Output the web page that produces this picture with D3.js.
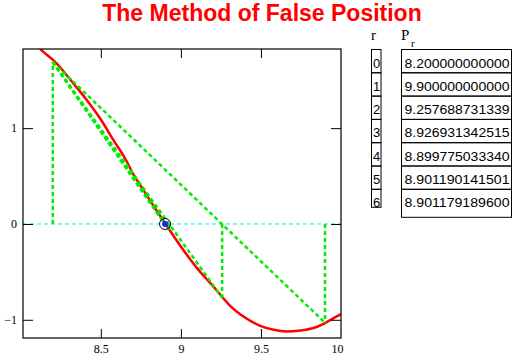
<!DOCTYPE html>
<html lang="en">
<head>
    <meta charset="utf-8">
    <title>The Method of False Position</title>
    <script src="https://d3js.org/d3.v7.min.js"></script>
    <style>
        body { margin: 0; background: #fff; }
        .tick text { font-family: "Liberation Serif", "DejaVu Serif", serif; font-size: 12px; fill: #000; }
        .tick line { stroke: #000; }
    </style>
</head>
<body>

<script>
    // curve (x, f(x))
    const curveX = [8.12, 8.131, 8.225, 8.329, 8.413, 8.496, 8.579, 8.663, 8.694, 8.766, 8.839, 8.902,
        8.964, 9.038, 9.11, 9.194, 9.256, 9.308, 9.391, 9.496, 9.579, 9.663, 9.746, 9.829, 9.891, 9.954, 10.0];
    const curveY = [1.83, 1.812, 1.674, 1.466, 1.292, 1.101, 0.875, 0.649, 0.545, 0.354, 0.164, 0.007,
        -0.149, -0.323, -0.479, -0.635, -0.757, -0.854, -0.966, -1.063, -1.104, -1.122, -1.111, -1.086, -1.042, -0.982, -0.94];

    // iterates from the table and f(p_r)
    const rIndex = [0, 1, 2, 3, 4, 5, 6];
    const pLabels = ["8.200000000000", "9.900000000000", "9.257688731339", "8.926931342515",
        "8.899775033340", "8.901190141501", "8.901179189600"];
    const pValues = pLabels.map(Number);
    const fAtP = [1.69, -1.03, -0.77, -0.066, 0.003, 0.0, 0.0];
    const root = 8.901179189600;

    const xTicks = [8.5, 9, 9.5, 10];
    const yTicks = [-1, 0, 1];

    const W = 520, H = 364;
    const L = 23, R = 341, T = 49, B = 338;

    const x = d3.scaleLinear().domain([8.014, 10]).range([L, R]);
    const y = d3.scaleLinear().domain([-1.19, 1.826]).range([B, T]);

    const svg = d3.select("body").append("svg").attr("width", W).attr("height", H);

    svg.append("text")
        .attr("x", 262).attr("y", 21)
        .attr("text-anchor", "middle")
        .style("font-family", "'Liberation Sans', Arial, sans-serif")
        .style("font-weight", "bold")
        .style("font-size", "23px")
        .style("fill", "#ff0000")
        .text("The Method of False Position");

    svg.append("clipPath").attr("id", "plot")
        .append("rect").attr("x", L).attr("y", T).attr("width", R - L).attr("height", B - T);

    const g = svg.append("g").attr("clip-path", "url(#plot)");

    // zero line
    g.append("line")
        .attr("x1", L).attr("x2", R).attr("y1", y(0)).attr("y2", y(0))
        .attr("stroke", "#00e8f0").attr("stroke-width", 1).attr("stroke-dasharray", "4,3");

    // function curve
    const pts = curveX.map((d, i) => [d, curveY[i]]);
    g.append("path")
        .datum(pts)
        .attr("fill", "none")
        .attr("stroke", "#ff0000")
        .attr("stroke-width", 2.5)
        .attr("d", d3.line().x(d => x(d[0])).y(d => y(d[1])).curve(d3.curveMonotoneX));

    // secant lines from (p0, f(p0)) to each later iterate, and verticals
    const green = "#00ee00";
    const secants = d3.range(1, pValues.length);
    g.selectAll("line.secant")
        .data(secants).enter()
        .append("line").attr("class", "secant")
        .attr("x1", x(pValues[0])).attr("y1", y(fAtP[0]))
        .attr("x2", i => x(pValues[i])).attr("y2", i => y(fAtP[i]))
        .attr("stroke", green).attr("stroke-width", 2.5).attr("stroke-dasharray", "4,3");

    g.selectAll("line.vert")
        .data(d3.range(0, 4)).enter()
        .append("line").attr("class", "vert")
        .attr("x1", i => x(pValues[i])).attr("x2", i => x(pValues[i]))
        .attr("y1", y(0)).attr("y2", i => y(fAtP[i]))
        .attr("stroke", green).attr("stroke-width", 2.5).attr("stroke-dasharray", "4,3");

    // root marker
    g.append("circle").attr("cx", x(root)).attr("cy", y(0)).attr("r", 5.5)
        .attr("fill", "none").attr("stroke", "#000").attr("stroke-width", 1);
    g.append("circle").attr("cx", x(root)).attr("cy", y(0)).attr("r", 3)
        .attr("fill", "#2020ff");

    const fmt = d => d < 0 ? "\u2212" + Math.abs(d) : String(d);

    // axes (ticks point inward on all four sides)
    const axBottom = svg.append("g").attr("transform", `translate(0,${B})`)
        .call(d3.axisBottom(x).tickValues(xTicks).tickSize(-9).tickSizeOuter(0).tickPadding(6)
            .tickFormat(fmt));
    axBottom.select(".domain").remove();
    axBottom.selectAll(".tick").filter(d => d === 10).select("text").attr("dx", -4);
    axBottom.selectAll(".tick").filter(d => d === 10).select("line").remove();

    const axTop = svg.append("g").attr("transform", `translate(0,${T})`)
        .call(d3.axisTop(x).tickValues(xTicks.slice(0, 3)).tickSize(-9).tickSizeOuter(0).tickFormat(""));
    axTop.select(".domain").remove();

    const axLeft = svg.append("g").attr("transform", `translate(${L},0)`)
        .call(d3.axisLeft(y).tickValues(yTicks).tickSize(-10).tickSizeOuter(0).tickPadding(6)
            .tickFormat(fmt));
    axLeft.select(".domain").remove();

    const axRight = svg.append("g").attr("transform", `translate(${R},0)`)
        .call(d3.axisRight(y).tickValues(yTicks).tickSize(-10).tickSizeOuter(0).tickFormat(""));
    axRight.select(".domain").remove();

    svg.append("rect")
        .attr("x", L).attr("y", T).attr("width", R - L).attr("height", B - T)
        .attr("fill", "none").attr("stroke", "#000").attr("stroke-width", 1.2);

    // table of iterates
    const rowY = d3.scaleLinear().domain([0, 1]).range([49.5, 72.8]);
    const table = svg.append("g");

    table.append("text").attr("x", 371).attr("y", 40)
        .style("font-family", "'Liberation Serif', serif").style("font-size", "15px")
        .text("r");
    table.append("text").attr("x", 401).attr("y", 40)
        .style("font-family", "'Liberation Serif', serif").style("font-size", "15px")
        .text("P");
    table.append("text").attr("x", 411).attr("y", 47)
        .style("font-family", "'Liberation Serif', serif").style("font-size", "11px")
        .text("r");

    const rows = table.selectAll("g.row").data(rIndex).enter()
        .append("g").attr("class", "row");

    rows.append("rect")
        .attr("x", 371.5).attr("y", d => rowY(d))
        .attr("width", 9.5).attr("height", d => d === 6 ? 18 : rowY(d + 1) - rowY(d))
        .attr("fill", "none").attr("stroke", "#000").attr("stroke-width", 1);
    rows.append("rect")
        .attr("x", 401.5).attr("y", d => rowY(d))
        .attr("width", 110).attr("height", d => d === 6 ? 28 : rowY(d + 1) - rowY(d))
        .attr("fill", "none").attr("stroke", "#000").attr("stroke-width", 1);

    rows.append("text")
        .attr("x", 376.5).attr("y", d => rowY(d) + 18)
        .attr("text-anchor", "middle")
        .style("font-family", "'Liberation Sans', Arial, sans-serif").style("font-size", "13px")
        .text(d => d);
    rows.append("text")
        .attr("x", 404.5).attr("y", d => rowY(d) + 18)
        .attr("textLength", 105).attr("lengthAdjust", "spacingAndGlyphs")
        .style("font-family", "'Liberation Sans', Arial, sans-serif").style("font-size", "13px")
        .text(d => pLabels[d]);
</script>

</body>
</html>
